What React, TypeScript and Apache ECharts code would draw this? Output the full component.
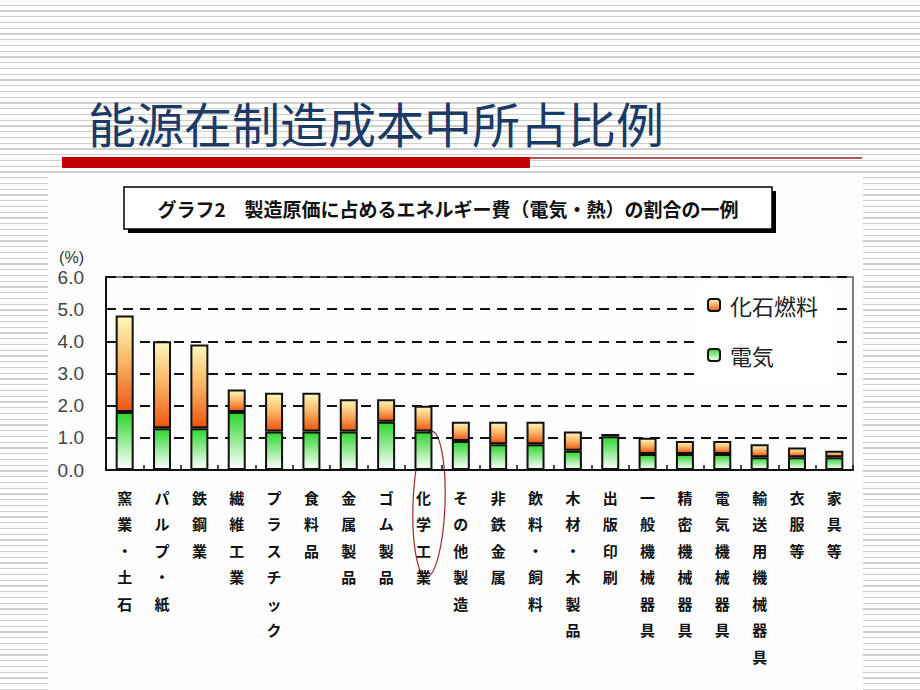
import React, { useEffect, useRef } from "react";
import * as echarts from "echarts";

const categories = [
  "窯業・土石", "パルプ・紙", "鉄鋼業", "繊維工業", "プラスチック", "食料品", "金属製品",
  "ゴム製品", "化学工業", "その他製造", "非鉄金属", "飲料・飼料", "木材・木製品", "出版印刷",
  "一般機械器具", "精密機械器具", "電気機械器具", "輸送用機械器具", "衣服等", "家具等",
];
const electricity = [1.8, 1.3, 1.3, 1.8, 1.2, 1.2, 1.2, 1.5, 1.2, 0.9, 0.8, 0.8, 0.6, 1.05, 0.5, 0.5, 0.5, 0.4, 0.4, 0.4];
const fossil = [3.0, 2.7, 2.6, 0.7, 1.2, 1.2, 1.0, 0.7, 0.8, 0.6, 0.7, 0.7, 0.6, 0.07, 0.5, 0.4, 0.4, 0.4, 0.3, 0.2];
const seriesNames = ["化石燃料", "電気"];
const pageTitle = "能源在制造成本中所占比例";
const chartTitle = "グラフ2　製造原価に占めるエネルギー費（電気・熱）の割合の一例";
const yUnit = "(%)";

export default function App() {
  const ref = useRef<HTMLDivElement>(null);
  useEffect(() => {
    if (!ref.current) return;
    const chart = echarts.init(ref.current, null, { renderer: "svg" });
    const fossilGrad = new echarts.graphic.LinearGradient(0, 0, 0, 1, [
      { offset: 0, color: "#FFF8B8" },
      { offset: 0.5, color: "#F8B262" },
      { offset: 1, color: "#EE5512" },
    ]);
    const elecGrad = new echarts.graphic.LinearGradient(0, 0, 0, 1, [
      { offset: 0, color: "#2FD62F" },
      { offset: 1, color: "#FFFFFF" },
    ]);
    chart.setOption({
      animation: false,
      grid: {
        left: 106, right: 67, top: 277, bottom: 220,
        show: true, borderColor: "#555", borderWidth: 1.5,
      },
      legend: {
        data: seriesNames,
        orient: "vertical",
        left: 699, top: 283,
        itemWidth: 12, itemHeight: 12, itemGap: 28,
        backgroundColor: "#fff",
        padding: [11, 12, 22, 8],
        textStyle: { fontSize: 22, color: "#222", fontFamily: "Noto Sans CJK JP", padding: [0, 0, 0, 5] },
      },
      xAxis: {
        type: "category",
        data: categories,
        axisLine: { lineStyle: { color: "#111", width: 2 } },
        axisTick: { show: true, inside: true, length: 5, lineStyle: { color: "#111", width: 1.5 } },
        axisLabel: {
          interval: 0,
          margin: 14,
          fontSize: 15,
          fontWeight: "bold",
          lineHeight: 26.5,
          color: "#111",
          fontFamily: "Noto Sans CJK JP",
          verticalAlign: "top",
          formatter: (v: string) => v.split("").join("\n"),
        },
      },
      yAxis: {
        type: "value",
        min: 0, max: 6, interval: 1,
        name: yUnit,
        nameLocation: "end",
        nameGap: 12,
        nameTextStyle: { fontSize: 16, color: "#333", align: "right", padding: [0, 22, 0, 0], fontFamily: "Liberation Sans" },
        axisLine: { show: true, lineStyle: { color: "#111", width: 2 } },
        axisTick: { show: false },
        axisLabel: {
          margin: 22, fontSize: 19, color: "#444", fontFamily: "Liberation Sans",
          formatter: (v: number) => v.toFixed(1),
        },
        splitLine: { show: true, lineStyle: { color: "#111", width: 2, type: [10, 7] } },
      },
      series: [
        {
          name: seriesNames[1], type: "bar", stack: "t", data: electricity, barWidth: 18,
          itemStyle: { color: elecGrad, borderColor: "#111", borderWidth: 2 },
        },
        {
          name: seriesNames[0], type: "bar", stack: "t", data: fossil, barWidth: 18,
          itemStyle: { color: fossilGrad, borderColor: "#111", borderWidth: 2 },
        },
      ],
      graphic: [
        {
          type: "text", left: 88, top: 98,
          style: { text: pageTitle, font: "48px 'Noto Sans CJK SC'", fill: "#1B3A66" },
        },
        { type: "rect", shape: { x: 62, y: 157, width: 468, height: 11 }, style: { fill: "#C00000" } },
        { type: "line", shape: { x1: 530, y1: 158, x2: 862, y2: 158 }, style: { stroke: "#9B1B1B", lineWidth: 1.5 } },
        { type: "rect", shape: { x: 128, y: 191, width: 648, height: 42 }, style: { fill: "#000" } },
        { type: "rect", shape: { x: 124, y: 187, width: 648, height: 42 }, style: { fill: "#fff", stroke: "#000", lineWidth: 1.5 } },
        {
          type: "text", x: 448, y: 208,
          style: { text: chartTitle, font: "bold 19px 'Noto Sans CJK JP'", fill: "#111", align: "center", verticalAlign: "middle" },
        },
        {
          type: "ellipse", x: 429, y: 504, rotation: -0.035,
          shape: { cx: 0, cy: 0, rx: 16, ry: 73 },
          style: { fill: "none", stroke: "#A0282A", lineWidth: 1.2 },
        },
      ],
    });
    return () => chart.dispose();
  }, []);
  return (
    <div
      style={{
        position: "fixed", left: 0, top: 0, width: 920, height: 690, overflow: "hidden",
        background: "repeating-linear-gradient(to bottom, #ffffff 0px, #ffffff 4.6px, #cfcfcf 4.6px, #cfcfcf 5.75px)",
      }}
    >
      <div style={{ position: "absolute", left: 48, top: 173, width: 815, height: 517, background: "#fdfdfd" }} />
      <div ref={ref} style={{ position: "absolute", left: 0, top: 0, width: 920, height: 690 }} />
    </div>
  );
}
